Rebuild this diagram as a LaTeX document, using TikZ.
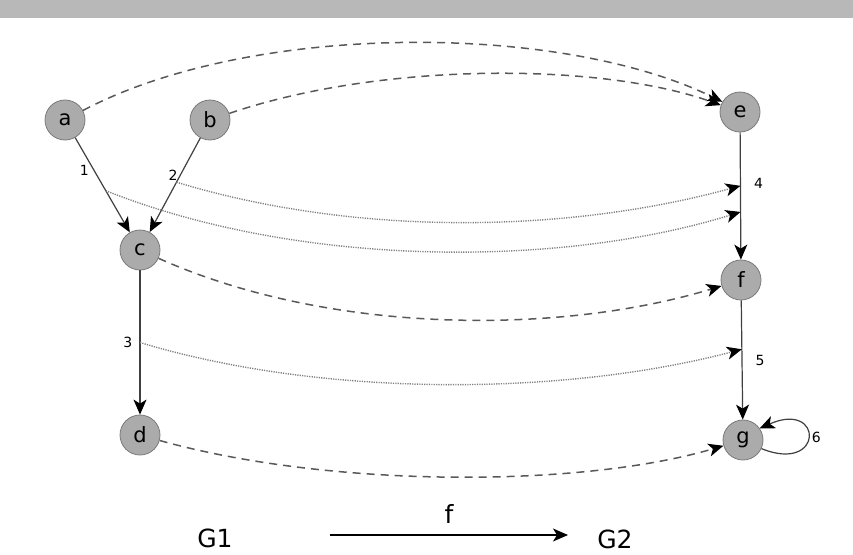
\documentclass[tikz,border=0pt]{standalone}
\usepackage{fontspec}
\setmainfont{DejaVu Sans}
\usepackage{xcolor}
\usetikzlibrary{arrows.meta, calc}

\definecolor{vgray}{HTML}{ABABAB}
\definecolor{vborder}{HTML}{7A7A7A}
\definecolor{bandgray}{HTML}{B8B8B8}

\tikzset{
    tip/.style={-{Stealth[length=15pt, width=13pt, inset=4pt, color=black]}},
    vtx/.style={circle, draw=vborder, fill=vgray, thick, minimum size=40pt, inner sep=0pt, font=\fontsize{21}{21}\selectfont},
    edge/.style={draw=black!75, line width=1.2pt, tip},
    mapv/.style={draw=black!65, line width=1.5pt, dash pattern=on 8pt off 6pt, tip},
    mape/.style={draw=black!50, line width=1.4pt, dash pattern=on 1.2pt off 1.2pt, tip},
    elabel/.style={font=\fontsize{14}{14}\selectfont, inner sep=1pt},
    glabel/.style={font=\fontsize{25}{25}\selectfont, inner sep=0pt}
}

\begin{document}
\begin{tikzpicture}[x=1pt, y=-1pt]
    \useasboundingbox (0,0) rectangle (853,554);

    % header band
    \fill[bandgray] (0,0) rectangle (853,18);

    % vertices of G1
    \node[vtx] (a) at (65,120) {a};
    \node[vtx] (b) at (210,120) {b};
    \node[vtx] (c) at (140,250) {c};
    \node[vtx] (d) at (140,435) {d};

    % vertices of G2
    \node[vtx] (e) at (740,112) {e};
    \node[vtx] (f) at (741,280) {f};
    \node[vtx] (g) at (743,440) {g};

    % edges of G1
    \draw[edge] (a) -- coordinate[pos=0.56] (m1) node[elabel, pos=0.35, left=4pt] {1} (c);
    \draw[edge] (b) -- coordinate[pos=0.47] (m2) node[elabel, pos=0.4, left=1pt] {2} (c);
    \draw[edge] (c) -- coordinate[pos=0.5] (m3) node[elabel, pos=0.5, left=6pt] {3} (d);

    % edges of G2
    \draw[edge] (e) -- coordinate[pos=0.42] (m4) coordinate[pos=0.625] (m4b) node[elabel, pos=0.4, right=12pt] {4} (f);
    \draw[edge] (f) -- coordinate[pos=0.41] (m5) node[elabel, pos=0.5, right=12pt] {5} (g);
    \draw[edge] (g.-25) .. controls (824,474) and (824,400) .. node[elabel, right=2pt] {6} (g.35);

    % vertex map (dashed)
    \draw[mapv] (a) .. controls (250,22) and (560,22) .. (e.150);
    \draw[mapv] (b) .. controls (380,62) and (600,62) .. (e);
    \draw[mapv] (c) .. controls (330,335) and (560,335) .. (f);
    \draw[mapv] (d) .. controls (330,488) and (580,488) .. (g);

    % edge map (dotted)
    \draw[mape] (m2) .. controls (350,235) and (560,235) .. (m4);
    \draw[mape] (m1) .. controls (300,268) and (560,268) .. (m4b);
    \draw[mape] (m3) .. controls (320,397) and (560,397) .. (m5);

    % caption
    \node[glabel] (G1) at (215,538) {G1};
    \node[glabel] (G2) at (615,539) {G2};
    \coordinate (fL) at (330,535);
    \coordinate (fR) at (568,535);
    \draw[line width=1.3pt, tip] (fL) -- node[glabel, above=11pt] {f} (fR);
\end{tikzpicture}
\end{document}
